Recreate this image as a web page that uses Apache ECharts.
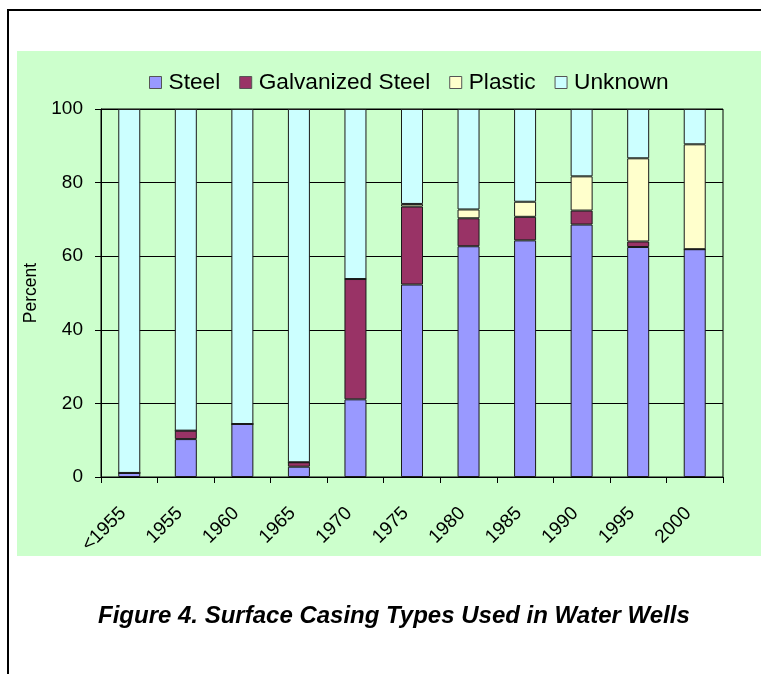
<!DOCTYPE html>
<html>
<head>
<meta charset="utf-8">
<script src="https://cdn.jsdelivr.net/npm/echarts@6/dist/echarts.min.js"></script>
<style>
html,body{margin:0;padding:0;background:#fff;}
#c{width:761px;height:674px;}
</style>
</head>
<body>
<div id="c"></div>
<script>
var categories = ['<1955','1955','1960','1965','1970','1975','1980','1985','1990','1995','2000'];
var steel      = [1.1, 10.3, 14.4, 2.8, 21.1, 52.3, 62.7, 64.3, 68.6, 62.5, 61.9];
var galvanized = [0, 2.3, 0, 1.2, 32.7, 21.2, 7.6, 6.4, 3.8, 1.5, 0];
var plastic    = [0, 0, 0, 0, 0, 0.7, 2.4, 4.1, 9.3, 22.6, 28.5];
var unknown    = [98.9, 87.4, 85.6, 96.0, 46.2, 25.8, 27.3, 25.2, 18.3, 13.4, 9.6];
var yTicks = [0, 20, 40, 60, 80, 100];
var seriesNames = ['Steel', 'Galvanized Steel', 'Plastic', 'Unknown'];
var seriesColors = ['#9999FF', '#993366', '#FFFFCC', '#CCFFFF'];
var titleText = 'Figure 4. Surface Casing Types Used in Water Wells';

var FONT = '"Liberation Sans", Arial, Helvetica, sans-serif';
var chart = echarts.init(document.getElementById('c'), null, {renderer: 'canvas'});
var dataSets = [steel, galvanized, plastic, unknown];

var series = seriesNames.map(function (n, i) {
  return {
    name: n,
    type: 'bar',
    stack: 'total',
    barWidth: 22,
    data: dataSets[i],
    itemStyle: {color: seriesColors[i], borderColor: '#1a1a1a', borderWidth: 1},
    emphasis: {disabled: true},
    animation: false
  };
});

chart.setOption({
  animation: false,
  textStyle: {fontFamily: FONT},
  graphic: [
    {type: 'rect', z: -10, silent: true, shape: {x: 17, y: 51, width: 744, height: 505}, style: {fill: '#CCFFCC'}},
    {type: 'line', z: 10, silent: true, shape: {x1: 8, y1: 10, x2: 8, y2: 674}, style: {stroke: '#000', lineWidth: 2}},
    {type: 'line', z: 10, silent: true, shape: {x1: 7, y1: 10, x2: 761, y2: 10}, style: {stroke: '#000', lineWidth: 2}}
  ],
  title: {
    text: titleText,
    left: 93,
    top: 599,
    textStyle: {fontFamily: FONT, fontSize: 24, fontWeight: 'bold', fontStyle: 'italic', color: '#000'}
  },
  legend: {
    data: seriesNames,
    left: 144,
    top: 66,
    icon: 'rect',
    itemWidth: 12,
    itemHeight: 12,
    itemGap: 19,
    selectedMode: false,
    itemStyle: {borderColor: '#555', borderWidth: 1},
    textStyle: {fontFamily: FONT, fontSize: 22.7, color: '#000', padding: [0, 0, 0, 2]}
  },
  grid: {
    left: 101, top: 109, width: 622, height: 368,
    show: true, borderColor: '#000', borderWidth: 1, backgroundColor: 'transparent'
  },
  xAxis: {
    type: 'category',
    data: categories,
    axisLine: {lineStyle: {color: '#000', width: 1}},
    axisTick: {show: true, length: 6, lineStyle: {color: '#000'}},
    axisLabel: {interval: 0, rotate: 45, fontFamily: FONT, fontSize: 19, color: '#000', margin: 27, padding: [0, 9, 0, 0]}
  },
  yAxis: {
    type: 'value',
    min: yTicks[0],
    max: yTicks[yTicks.length - 1],
    interval: 20,
    name: 'Percent',
    nameLocation: 'middle',
    nameRotate: 90,
    nameGap: 52,
    nameTextStyle: {fontFamily: FONT, fontSize: 17.5, color: '#000'},
    axisLine: {show: true, lineStyle: {color: '#000', width: 1}},
    axisTick: {show: true, length: 6, lineStyle: {color: '#000'}},
    splitLine: {show: true, lineStyle: {color: '#000', width: 1}},
    axisLabel: {fontFamily: FONT, fontSize: 19, color: '#000', margin: 18}
  },
  series: series
});
</script>
</body>
</html>
